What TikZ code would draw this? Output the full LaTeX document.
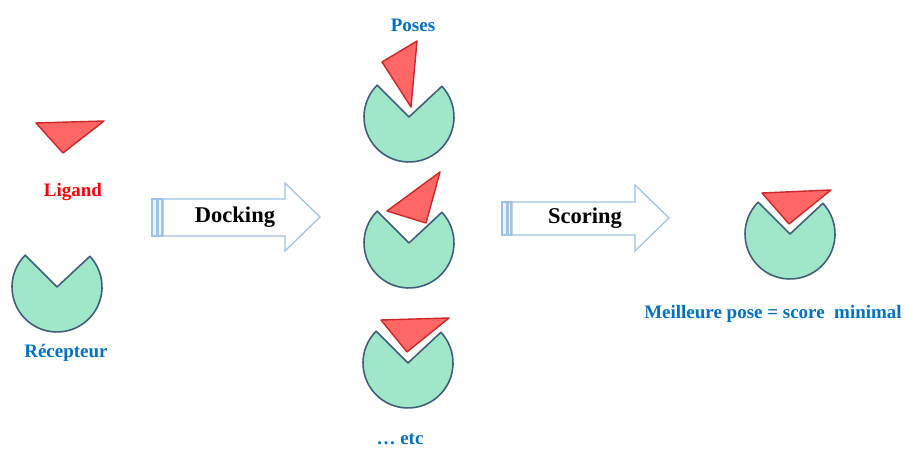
\documentclass[tikz,border=0pt]{standalone}
\usepackage{fontspec}
\setmainfont{Liberation Serif}
\usepackage{tikz}
\usetikzlibrary{positioning}

\definecolor{ligandred}{RGB}{255,102,102}
\definecolor{ligandedge}{RGB}{205,40,40}
\definecolor{pocketgreen}{RGB}{160,230,200}
\definecolor{pocketedge}{RGB}{65,95,125}
\definecolor{labelblue}{RGB}{0,112,192}
\definecolor{arrowblue}{RGB}{157,195,230}

% Receptor pocket: a disc with a wedge cut out on top
\newcommand{\receptor}[2]{%
    \draw[pocket] (#1,#2) -- ++(43:45) arc[start angle=43, end angle=-225, radius=45] -- cycle;}

\begin{document}
\begin{tikzpicture}[
        x=0.01cm, y=0.01cm,
        ligand/.style={fill=ligandred, draw=ligandedge, line width=0.4pt, line join=round},
        pocket/.style={fill=pocketgreen, draw=pocketedge, line width=0.45pt, line join=round},
        bigarrow/.style={draw=arrowblue, fill=white, line width=0.35pt},
        stripe/.style={draw=arrowblue, fill=arrowblue!20, line width=0.35pt},
        redlabel/.style={text=red, font=\fontsize{5.4}{6}\selectfont\bfseries},
        bluelabel/.style={text=labelblue, font=\fontsize{5.4}{6}\selectfont\bfseries},
        steplabel/.style={text=black, font=\fontsize{6.4}{7}\selectfont\bfseries}
    ]
        \useasboundingbox (0,0) rectangle (906,449);

        % Left column - ligand and receptor on their own
        \draw[ligand] (36,326) -- (104,328) -- (63,296) -- cycle;
        \node[redlabel] (ligand) at (73,257) {Ligand};
        \receptor{57}{162}
        \node[bluelabel] (recepteur) at (66,96) {Récepteur};

        % Docking arrow
        \draw[bigarrow] (163,213) -- (285,213) -- (285,198) -- (320,232)
            -- (285,266) -- (285,250) -- (163,250) -- cycle;
        \draw[stripe] (152,213) rectangle (157,250);
        \draw[stripe] (158,213) rectangle (162,250);
        \node[steplabel] (docking) at (235,232) {Docking};

        % Middle column - the poses
        \node[bluelabel] (poses) at (413,424) {Poses};
        \receptor{409}{332}
        \draw[ligand] (382,387) -- (417,408) -- (411,342) -- cycle;
        \receptor{409}{206}
        \draw[ligand] (387,238) -- (440,277) -- (426,226) -- cycle;
        \receptor{408}{86}
        \draw[ligand] (381,129) -- (449,131) -- (407,97) -- cycle;
        \node[bluelabel] (etc) at (400,10) {… etc};

        % Scoring arrow
        \draw[bigarrow] (512,214) -- (635,214) -- (635,198) -- (669,231)
            -- (635,264) -- (635,247) -- (512,247) -- cycle;
        \draw[stripe] (502,214) rectangle (507,247);
        \draw[stripe] (508,214) rectangle (511,247);
        \node[steplabel] (scoring) at (585,231) {Scoring};

        % Right column - best pose
        \receptor{790}{215}
        \draw[ligand] (762,256) -- (831,259) -- (789,225) -- cycle;
        \node[bluelabel, inner sep=0pt] (best) at (773,135) {Meilleure pose = score \ minimal};
    \end{tikzpicture}
\end{document}
